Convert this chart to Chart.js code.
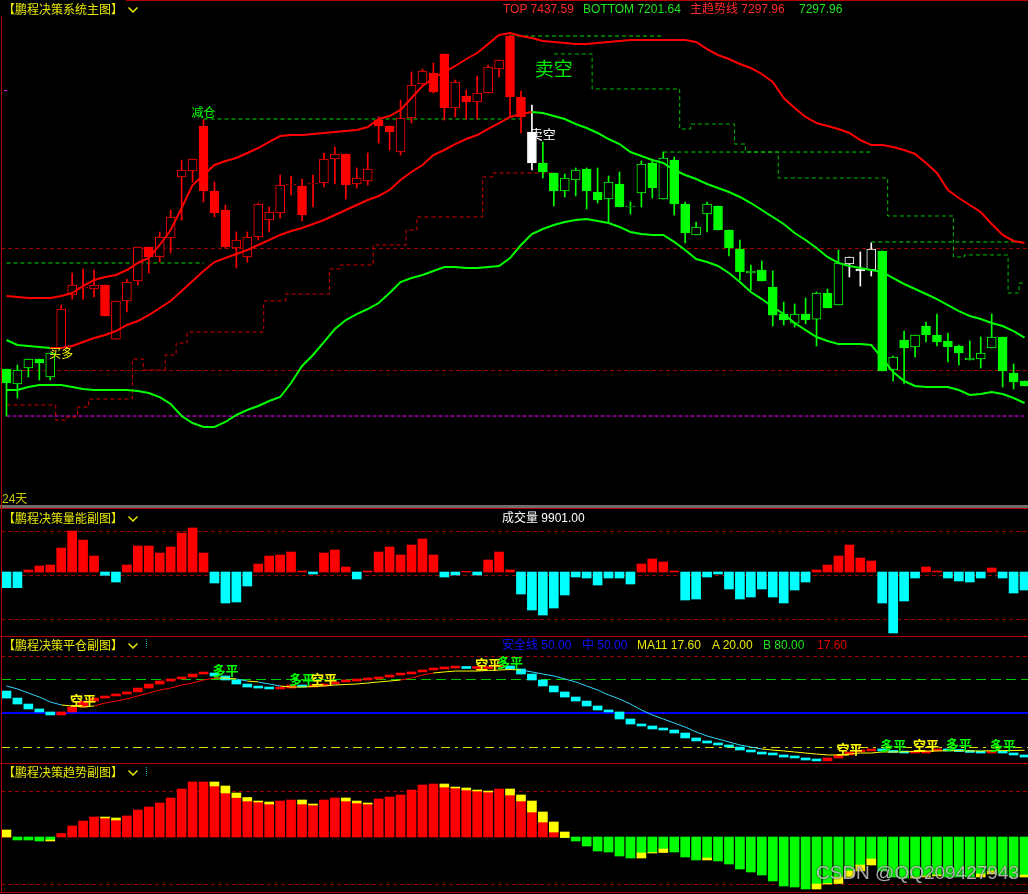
<!DOCTYPE html>
<html lang="zh-CN">
<head>
<meta charset="utf-8">
<title>鹏程决策系统</title>
<script src="https://cdn.jsdelivr.net/npm/chart.js@4.4.1/dist/chart.umd.min.js"></script>
<style>
  html,body{margin:0;padding:0;background:#000;}
  body{width:1028px;height:894px;overflow:hidden;position:relative;
       font-family:"Liberation Sans","Noto Sans CJK SC",sans-serif;font-size:12px;}
  canvas{position:absolute;left:1px;}
  .t{position:absolute;white-space:nowrap;line-height:14px;}
  .ttl{color:#e8e800;background:#000;font-family:"Noto Sans CJK SC",sans-serif;padding-right:3px;}
  .rule{position:absolute;left:0;width:1028px;height:1px;background:#b40000;}
  .chev{position:absolute;left:128px;}
  .dots{position:absolute;left:146px;width:0;height:9px;border-left:1px dotted #00b0b0;}
</style>
</head>
<body>
<div class="rule" style="top:0"></div>
<canvas id="cMain" width="1029" height="503" style="top:0"></canvas>
<div style="position:absolute;left:0;top:505px;width:1028px;height:3px;background:#6e6e6e"></div>
<div class="rule" style="top:508px"></div>
<canvas id="cVol" width="1029" height="126" style="top:509px"></canvas>
<div class="rule" style="top:636px"></div>
<canvas id="cPc" width="1029" height="126" style="top:637px"></canvas>
<div class="rule" style="top:763px"></div>
<canvas id="cTrend" width="1029" height="128" style="top:764px"></canvas>
<div class="rule" style="top:892px"></div>
<div style="position:absolute;left:1px;top:0;width:1px;height:893px;background:#b40000"></div>

<!-- main panel header -->
<div class="t ttl" style="left:0;top:0;padding-top:2px;padding-left:3px">【鹏程决策系统主图】</div>
<svg class="chev" style="top:7px" width="10" height="7"><polyline points="0.5,0.5 5,5 9.5,0.5" fill="none" stroke="#e8e800" stroke-width="1.5"/></svg>
<div class="t" style="left:503px;top:2px;color:#ff2a2a">TOP 7437.59</div>
<div class="t" style="left:583px;top:2px;color:#1ee61e">BOTTOM 7201.64</div>
<div class="t" style="left:690px;top:2px;color:#ff2a2a">主趋势线 7297.96</div>
<div class="t" style="left:799px;top:2px;color:#1ee61e">7297.96</div>
<div style="position:absolute;left:4px;top:90px;width:3px;height:1px;background:#ff00ff"></div>
<div class="t" style="left:2px;top:492px;color:#c8c800">24天</div>

<!-- volume panel header -->
<div class="t ttl" style="left:3px;top:511px">【鹏程决策量能副图】</div>
<svg class="chev" style="top:516px" width="10" height="7"><polyline points="0.5,0.5 5,5 9.5,0.5" fill="none" stroke="#e8e800" stroke-width="1.5"/></svg>
<div class="t" style="left:502px;top:511px;color:#ffffff">成交量 9901.00</div>

<!-- close-position panel header -->
<div class="t ttl" style="left:3px;top:638px">【鹏程决策平仓副图】</div>
<svg class="chev" style="top:643px" width="10" height="7"><polyline points="0.5,0.5 5,5 9.5,0.5" fill="none" stroke="#e8e800" stroke-width="1.5"/></svg>
<div class="dots" style="top:639px"></div>
<div class="t" style="left:502px;top:638px;color:#1010ff">安全线 50.00</div>
<div class="t" style="left:582px;top:638px;color:#1010ff">中 50.00</div>
<div class="t" style="left:637px;top:638px;color:#e8e800">MA11 17.60</div>
<div class="t" style="left:712px;top:638px;color:#e8e800">A 20.00</div>
<div class="t" style="left:763px;top:638px;color:#1ee61e">B 80.00</div>
<div class="t" style="left:817px;top:638px;color:#e00000">17.60</div>

<!-- trend panel header -->
<div class="t ttl" style="left:3px;top:765px">【鹏程决策趋势副图】</div>
<svg class="chev" style="top:770px" width="10" height="7"><polyline points="0.5,0.5 5,5 9.5,0.5" fill="none" stroke="#e8e800" stroke-width="1.5"/></svg>
<div class="dots" style="top:767px"></div>

<div class="t" style="left:816px;top:862px;font-size:19px;line-height:22px;color:rgba(235,235,235,0.72);text-shadow:0 0 2px #000">CSDN @QQ209427943</div>

<script>
// ---- data ----------------------------------------------------------------
const N = 94;
const days = Array.from({length: N}, (_, i) => 'D' + (i + 1));

// candle tone: G = short side, R = long side, W = switch bars
const toneRuns = [['G', 5], ['R', 43], ['W', 1], ['G', 28], ['W', 3], ['G', 14]];

const openP = [7251.7,7229.6,7253.2,7266.5,7239.9,7282.7,7360.8,7371.2,7369.7,7375.6,
  7295.9,7352.0,7381.5,7431.7,7416.9,7444.9,7534.9,7543.7,7610.1,7514.2,
  7486.2,7430.2,7416.9,7446.4,7471.5,7481.8,7523.1,7521.6,7524.6,7526.0,
  7561.4,7568.8,7524.6,7529.0,7618.9,7610.1,7571.7,7621.9,7672.0,7688.2,
  7716.3,7636.6,7654.3,7645.5,7658.8,7694.2,7742.8,7652.9,7601.2,7555.5,
  7540.8,7514.2,7530.4,7546.7,7512.8,7502.4,7524.6,7490.6,7511.3,7555.5,
  7502.4,7559.9,7495.1,7449.4,7480.3,7492.1,7456.7,7428.7,7393.3,7397.7,
  7372.6,7332.8,7319.5,7332.8,7325.4,7363.8,7346.1,7406.6,7399.2,7397.7,
  7425.8,7250.3,7294.5,7284.2,7315.1,7301.9,7293.0,7285.6,7265.0,7266.5,
  7282.7,7298.9,7245.8,7234.0];
const highP = [7251.7,7257.6,7266.5,7266.5,7275.3,7346.1,7393.3,7399.2,7397.7,7375.6,
  7352.0,7384.5,7431.7,7431.7,7453.8,7486.2,7559.9,7561.4,7618.9,7527.5,
  7493.6,7453.8,7453.8,7496.5,7490.6,7537.8,7536.4,7531.9,7537.8,7570.3,
  7579.1,7568.8,7548.2,7570.3,7623.4,7610.1,7648.4,7689.7,7694.2,7703.0,
  7716.3,7677.9,7663.2,7683.8,7700.0,7707.4,7744.3,7661.7,7641.1,7586.5,
  7540.8,7539.3,7548.2,7548.2,7548.2,7536.4,7542.3,7498.0,7558.5,7559.9,
  7571.7,7564.4,7498.0,7468.5,7498.0,7492.1,7456.7,7442.0,7405.1,7411.0,
  7396.3,7350.5,7347.6,7356.4,7365.3,7369.7,7427.2,7416.9,7424.3,7437.6,
  7425.8,7270.9,7307.7,7301.9,7321.0,7332.8,7304.8,7287.1,7293.0,7298.9,
  7332.8,7298.9,7259.1,7234.0];
const lowP = [7182.4,7209.0,7239.9,7235.5,7235.5,7282.7,7354.9,7354.9,7357.9,7329.9,
  7295.9,7335.8,7375.6,7393.3,7409.5,7422.8,7471.5,7527.5,7498.0,7475.9,
  7430.2,7400.7,7409.5,7442.0,7453.8,7474.4,7508.3,7470.0,7490.6,7520.1,
  7524.6,7502.4,7518.6,7523.1,7585.0,7574.7,7567.3,7614.5,7672.0,7658.8,
  7618.9,7623.4,7620.4,7620.4,7658.8,7682.3,7623.4,7599.8,7545.2,7533.4,
  7492.1,7505.4,7506.9,7487.7,7496.5,7467.1,7490.6,7480.3,7490.6,7503.9,
  7502.4,7478.8,7437.6,7449.4,7453.8,7456.7,7418.4,7383.0,7368.2,7381.5,
  7315.1,7316.6,7313.6,7318.1,7285.6,7341.7,7346.1,7387.4,7374.1,7388.9,
  7248.8,7234.0,7229.6,7269.4,7291.5,7285.6,7262.1,7257.6,7265.0,7253.2,
  7282.7,7225.2,7222.2,7226.7];
const closeP = [7231.1,7250.3,7266.5,7260.6,7275.3,7340.2,7375.6,7371.2,7375.6,7329.9,
  7352.0,7380.0,7431.7,7416.9,7446.4,7475.9,7545.2,7561.4,7514.2,7481.8,
  7431.7,7442.0,7446.4,7495.1,7483.3,7523.1,7523.1,7478.8,7524.6,7561.4,
  7568.8,7523.1,7533.4,7546.7,7610.1,7601.2,7621.9,7670.6,7691.2,7660.2,
  7636.6,7675.0,7645.5,7658.8,7697.1,7707.4,7652.9,7623.4,7555.5,7542.3,
  7514.2,7533.4,7545.2,7514.2,7501.0,7527.5,7490.6,7490.6,7554.1,7518.6,
  7562.9,7495.1,7452.3,7461.2,7495.1,7456.7,7430.2,7394.8,7396.3,7381.5,
  7331.3,7324.0,7332.8,7324.0,7363.8,7341.7,7408.1,7416.9,7396.3,7428.7,
  7248.8,7269.4,7282.7,7301.9,7301.9,7291.5,7284.2,7275.3,7267.9,7275.3,
  7298.9,7248.8,7232.6,7226.7];

// channel: TOP / 主趋势线 / BOTTOM
const upperBand = [7359.4,7357.9,7356.4,7356.4,7356.4,7359.4,7363.8,7374.1,7383.0,7387.4,
  7390.4,7397.7,7408.1,7415.4,7434.6,7456.7,7489.2,7523.1,7537.8,7552.6,
  7558.5,7562.9,7570.3,7577.6,7586.5,7595.3,7596.8,7596.8,7598.3,7599.8,
  7601.2,7602.7,7604.2,7608.6,7620.4,7624.8,7633.7,7651.4,7669.1,7680.9,
  7689.7,7698.6,7708.9,7717.7,7731.0,7744.3,7747.3,7742.8,7739.9,7735.4,
  7734.0,7732.5,7731.0,7731.0,7732.5,7734.0,7735.4,7736.9,7736.9,7736.9,
  7736.9,7736.9,7736.9,7734.0,7723.6,7714.8,7708.9,7701.5,7695.6,7686.8,
  7675.0,7651.4,7636.6,7623.4,7614.5,7610.1,7605.7,7599.8,7589.4,7582.0,
  7582.0,7579.1,7574.7,7568.8,7555.5,7540.8,7515.7,7503.9,7493.6,7483.3,
  7465.6,7449.4,7440.5,7437.59];
const midLine = [7294.5,7287.1,7285.6,7284.2,7282.7,7282.7,7285.6,7291.5,7297.4,7301.9,
  7307.7,7316.6,7322.5,7331.3,7341.7,7352.0,7366.7,7381.5,7396.3,7409.5,
  7415.4,7421.3,7427.2,7434.6,7442.0,7449.4,7455.3,7459.7,7465.6,7471.5,
  7478.8,7486.2,7493.6,7501.0,7506.9,7515.7,7530.4,7542.3,7552.6,7567.3,
  7574.7,7583.5,7590.9,7596.8,7605.7,7614.5,7623.4,7627.8,7630.7,7629.3,
  7624.8,7620.4,7613.0,7607.1,7599.8,7590.9,7583.5,7571.7,7565.8,7559.9,
  7555.5,7545.2,7537.8,7531.9,7524.6,7518.6,7512.8,7505.4,7496.5,7486.2,
  7475.9,7465.6,7452.3,7442.0,7430.2,7416.9,7408.1,7403.6,7400.7,7397.7,
  7394.8,7385.9,7377.1,7369.7,7362.3,7354.9,7346.1,7337.2,7329.9,7325.4,
  7319.5,7315.1,7307.7,7297.96];
const lowerBand = [7220.8,7220.8,7225.2,7228.1,7228.1,7228.1,7225.2,7222.2,7220.8,7220.8,
  7220.8,7220.8,7219.3,7216.3,7210.4,7200.1,7182.4,7172.1,7166.2,7166.2,
  7173.6,7183.9,7191.3,7197.2,7204.5,7210.4,7231.1,7256.2,7272.4,7291.5,
  7310.7,7324.0,7332.8,7340.2,7349.0,7363.8,7380.0,7385.9,7390.4,7396.3,
  7402.2,7402.2,7400.7,7400.7,7402.2,7403.6,7415.4,7434.6,7450.8,7458.2,
  7464.1,7468.5,7471.5,7472.9,7470.0,7467.1,7461.2,7453.8,7450.8,7449.4,
  7449.4,7439.1,7427.2,7414.0,7409.5,7403.6,7393.3,7380.0,7365.3,7354.9,
  7343.1,7332.8,7319.5,7309.2,7298.9,7293.0,7288.6,7288.6,7288.6,7287.1,
  7267.9,7247.3,7234.0,7226.7,7225.2,7225.2,7225.2,7220.8,7213.4,7214.9,
  7217.8,7214.9,7209.0,7201.64];

// trailing stops (step index -> level)
const redStepFrom  = [0, 5, 6, 7, 8, 12, 13, 15, 16, 17, 24, 26, 30, 31, 34, 37, 38, 44, 45];
const redStepLevel = [7198.6,7176.5,7181.0,7195.7,7207.5,7266.5,7250.3,7272.4,7290.1,7306.3,
  7352.0,7362.3,7399.2,7405.1,7434.6,7456.7,7475.9,7534.9,7540.8];
const redStepLast = 50;
const greenStepFrom  = [50, 54, 62, 63, 67, 68, 71, 81, 87, 88, 92, 93];
const greenStepLevel = [7716.3,7664.7,7605.7,7613.0,7583.5,7571.7,7533.4,7477.4,7416.9,7419.9,7363.8,7378.5];
const greenStepLast = 93;

// pressure levels drawn from signal highs
const levelFrom  = [0, 18, 46, 60, 79];
const levelTo    = [18, 47, 60, 79, 93];
const levelPrice = [7408.1, 7620.4, 7742.8, 7571.7, 7439.1];
const supportLevel = 7182.4;
const mainGrid = [7430.2, 7250.3];

const mainSignalIdx   = [5, 18, 49, 50];
const mainSignalPrice = [7275.3, 7630.7, 7598.3, 7694.2];
const mainSignalText  = ['买多', '减仓', '卖空', '卖空'];

// 量能
const volume = [-1570,-1570,200,600,700,2400,4100,3200,1600,-330,
  -1000,700,2600,2600,1900,2500,3900,4400,1900,-1100,
  -3100,-3000,-1400,800,1600,1700,2000,100,-200,1900,
  2200,500,-700,100,2000,2500,1700,2700,3300,1700,
  -500,-300,70,-300,1200,2000,200,-2200,-3800,-4300,
  -3600,-2300,-500,-600,-1300,-600,-600,-1200,800,1300,
  1000,100,-2800,-2700,-500,-200,-1700,-2700,-2500,-1700,
  -2500,-3100,-1800,-1000,200,700,1600,2700,1400,1100,
  -3100,-6100,-2900,-600,500,100,-600,-900,-1000,-600,
  400,-600,-2100,-1800];
const volGrid = [4100, -300, -4700];

// 平仓
const pcStart = 69.1;
const pcOsc = [63.0,57.8,53.5,50.9,48.3,50.9,55.2,60.4,63.0,64.8,
  66.5,68.3,71.7,75.2,77.8,79.6,81.3,83.9,84.8,82.2,
  78.7,75.2,72.6,71.7,70.9,71.7,74.3,72.6,73.5,75.2,
  77.0,77.8,78.7,79.6,81.3,83.0,83.9,85.7,87.4,88.3,
  89.1,89.6,88.7,88.7,90.0,90.9,88.3,83.9,78.7,73.5,
  68.3,63.9,60.4,56.1,52.6,50.9,44.8,40.4,38.7,36.1,
  35.2,32.6,28.3,25.7,23.9,22.2,20.4,17.8,16.1,14.3,
  13.5,11.7,10.9,9.1,8.3,10.9,13.5,16.1,17.0,18.7,
  17.0,15.7,15.2,15.2,17.0,17.8,17.0,16.5,15.7,15.2,
  17.0,15.2,13.5,11.7];
const ma11 = [73.5,70.9,67.4,63.9,59.6,57.0,56.1,55.2,56.1,58.7,
  60.4,62.2,64.8,67.4,70.0,71.7,74.3,76.1,78.7,80.4,
  80.4,79.6,77.8,77.0,75.2,73.5,72.6,72.6,73.0,73.5,
  74.3,74.8,75.2,76.1,77.0,77.8,78.7,80.4,83.0,84.8,
  85.7,86.5,86.5,86.5,87.0,87.4,87.8,87.4,85.7,83.9,
  82.2,79.6,77.0,73.5,70.0,65.7,62.2,57.8,52.6,48.3,
  44.8,41.3,37.8,33.5,30.0,27.4,24.8,22.2,20.4,18.7,
  17.8,17.0,16.1,15.2,14.3,13.5,13.5,14.3,15.2,15.2,
  16.1,16.1,16.3,16.5,16.8,17.0,17.2,17.2,17.0,16.9,
  17.2,17.3,17.4,17.6];
const pcLevels = {top: 100, b: 80, safe: 50, a: 20};
const pcSignalIdx   = [7, 20, 27, 29, 44, 46, 77, 81, 84, 87, 91];
const pcSignalValue = [61.3, 87.4, 79.6, 79.6, 92.6, 94.3, 18.7, 22.2, 22.2, 23.0, 22.2];
const pcSignalText  = ['空平','多平','多平','空平','空平','多平','空平','多平','空平','多平','多平'];

// 趋势
const trendStart = 14;
const trend = [0,-6,-6,-8,-6,7,22,32,40,38,
  34,42,54,60,68,78,96,110,110,102,
  88,79,72,70,66,72,74,66,64,74,
  78,72,68,66,76,80,84,94,104,106,
  100,98,94,92,90,96,84,72,50,30,
  10,-1,-8,-18,-28,-30,-38,-42,-32,-31,
  -24,-30,-40,-46,-42,-48,-54,-64,-70,-76,
  -88,-98,-100,-104,-94,-93,-80,-68,-56,-44,
  -68,-80,-82,-80,-78,-76,-80,-80,-80,-74,
  -68,-76,-80,-76];
const trendGrid = [92, -94];

// ---- helpers ---------------------------------------------------------------
const RED = '#ff0000', GREEN = '#00ff00', CYAN = '#00ffff', YELLOW = '#ffff00';
const TONE = {R: RED, G: GREEN, W: '#ffffff'};
const tone = toneRuns.flatMap(([t, n]) => Array(n).fill(t));
const candleColor = tone.map(t => TONE[t]);

function steps(from, level, last) {
  const out = Array(N).fill(null);
  from.forEach((f, k) => {
    const to = k + 1 < from.length ? from[k + 1] - 1 : last;
    for (let i = f; i <= to; i++) out[i] = level[k];
  });
  return out;
}
function span(a, b, v) {
  return days.map((_, i) => (i >= a && i <= b ? v : null));
}
function line(data, color, width, more) {
  return Object.assign({type: 'line', data, borderColor: color, borderWidth: width,
    pointRadius: 0, fill: false, order: 1}, more || {});
}

function hLines(lines) {
  return {id: 'hLines', beforeDatasetsDraw(chart) {
    const {ctx, chartArea: a, scales: {y}} = chart;
    lines.forEach(l => {
      const w = l.width || 1;
      let py = Math.round(y.getPixelForValue(l.value));
      if (w % 2) py += 0.5;
      ctx.save();
      ctx.strokeStyle = l.color; ctx.lineWidth = w; ctx.setLineDash(l.dash || []);
      ctx.beginPath(); ctx.moveTo(0, py); ctx.lineTo(a.right, py); ctx.stroke();
      ctx.restore();
    });
  }};
}
function marks(items) {
  return {id: 'marks', afterDatasetsDraw(chart) {
    const {ctx, scales: {x, y}} = chart;
    items.forEach(m => {
      ctx.save();
      ctx.font = m.font; ctx.fillStyle = m.color;
      ctx.textAlign = 'center'; ctx.textBaseline = 'middle';
      ctx.fillText(m.text, x.getPixelForValue(m.idx), y.getPixelForValue(m.value));
      ctx.restore();
    });
  }};
}
function makeChart(id, min, max, datasets, plugins) {
  return new Chart(document.getElementById(id), {
    type: 'bar',
    data: {labels: days, datasets},
    options: {
      responsive: false, animation: false, events: [],
      layout: {padding: 0},
      plugins: {legend: {display: false}, tooltip: {enabled: false}},
      scales: {x: {display: false}, y: {display: false, min, max}}
    },
    plugins
  });
}

// ---- main panel --------------------------------------------------------------
const CJK = '"Noto Sans CJK SC"';
const mainSignalStyle = [
  {color: YELLOW, font: '12px ' + CJK},
  {color: GREEN, font: '12px ' + CJK},
  {color: '#ffffff', font: '13px ' + CJK},
  {color: '#00ee00', font: '19px ' + CJK}
];
const dashed = {borderDash: [4, 3], order: 6};
makeChart('cMain', 7054.13, 7795.9, [
  line(upperBand, RED, 2),
  line(midLine, RED, 2, {segment: {borderColor: c => c.p1.parsed.y >= c.p0.parsed.y ? RED : GREEN}}),
  line(lowerBand, GREEN, 2),
  {type: 'bar', data: lowP.map((l, i) => [l, highP[i]]), backgroundColor: candleColor,
   barThickness: 1, grouped: false, order: 5},
  {type: 'bar', data: openP.map((o, i) => [o, closeP[i]]),
   backgroundColor: closeP.map((c, i) => c < openP[i] ? candleColor[i] : '#000000'),
   borderColor: candleColor, borderWidth: 1, borderSkipped: false,
   barThickness: 9, minBarLength: 1, grouped: false, order: 4},
  line(steps(redStepFrom, redStepLevel, redStepLast), '#d40000', 1, Object.assign({stepped: 'middle'}, dashed)),
  line(steps(greenStepFrom, greenStepLevel, greenStepLast), '#00c000', 1, Object.assign({stepped: 'middle'}, dashed)),
  ...levelFrom.map((a, k) => line(span(a, levelTo[k], levelPrice[k]), '#00dd00', 1, dashed)),
  line(days.map(() => supportLevel), '#ff00ff', 1, {borderDash: [4, 2], order: 6})
], [
  hLines(mainGrid.map(v => ({value: v, color: '#a00000', dash: [4, 3]}))),
  marks(mainSignalIdx.map((idx, k) => Object.assign({idx, value: mainSignalPrice[k], text: mainSignalText[k]}, mainSignalStyle[k])))
]);

// ---- volume panel ------------------------------------------------------------
makeChart('cVol', -6300, 6300, [
  {data: volume, backgroundColor: volume.map(v => v >= 0 ? RED : CYAN), barThickness: 9}
], [
  hLines(volGrid.map(v => ({value: v, color: '#a00000', dash: [4, 3]})))
]);

// ---- close-position panel ------------------------------------------------------
const pcPrev = [pcStart, ...pcOsc.slice(0, -1)];
makeChart('cPc', 6.52, 116.09, [
  line(ma11, CYAN, 1, {segment: {borderColor: c => {
    const d = c.p1.parsed.y - c.p0.parsed.y;
    return d > 1 ? RED : d < -1 ? '#30d8ff' : YELLOW;
  }}}),
  {data: pcOsc.map((v, i) => [pcPrev[i], v]),
   backgroundColor: pcOsc.map((v, i) => v >= pcPrev[i] ? RED : CYAN),
   barThickness: 9, minBarLength: 2, grouped: false, order: 3}
], [
  hLines([
    {value: pcLevels.top, color: '#a00000', dash: [4, 3]},
    {value: pcLevels.b, color: '#00c800', dash: [10, 5]},
    {value: pcLevels.safe, color: '#0000ff', width: 2},
    {value: pcLevels.a, color: '#e0e000', dash: [9, 5, 3, 5]}
  ]),
  marks(pcSignalIdx.map((idx, k) => ({idx, value: pcSignalValue[k], text: pcSignalText[k],
    color: pcSignalText[k] === '空平' ? YELLOW : GREEN, font: 'bold 13px ' + CJK})))
]);

// ---- trend panel ---------------------------------------------------------------
const trendPrev = [trendStart, ...trend.slice(0, -1)];
makeChart('cTrend', -110, 146, [
  {data: trend, backgroundColor: trend.map(v => v >= 0 ? RED : GREEN), barThickness: 9, grouped: false, order: 2},
  {data: trend.map((v, i) => Math.abs(v) < Math.abs(trendPrev[i]) ? [v, trendPrev[i]] : null),
   backgroundColor: YELLOW, barThickness: 9, grouped: false, order: 1}
], [
  hLines(trendGrid.map(v => ({value: v, color: '#a00000', dash: [4, 3]})))
]);
</script>
</body>
</html>
